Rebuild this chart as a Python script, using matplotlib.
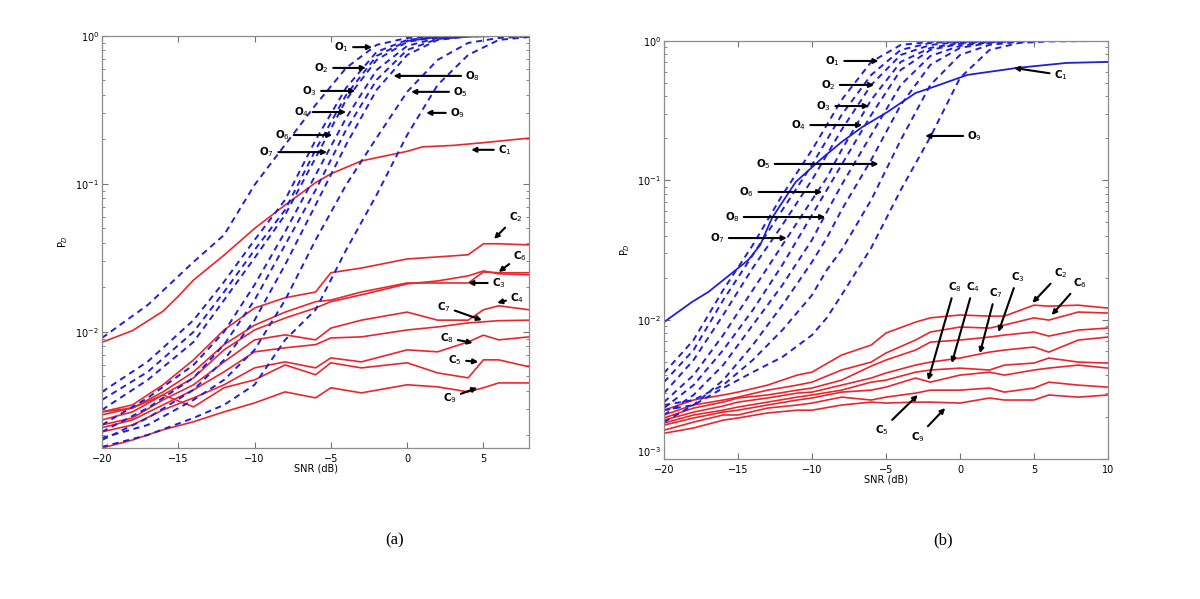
import matplotlib.pyplot as plt

# ---------------- panel (a) ----------------
snr_a_blue = [-20, -17, -14, -12, -10, -8, -6, -4, -2, 0, 2, 4, 6, 8]
a_O_curves = [
    [0.0091, 0.0152, 0.0297, 0.0452, 0.0985, 0.184, 0.342, 0.608, 0.87, 0.969, 0.992, 1.0, 1.0, 1.0],
    [0.00393, 0.0063, 0.012, 0.0218, 0.0418, 0.078, 0.198, 0.446, 0.78, 0.94, 0.984, 1.0, 1.0, 1.0],
    [0.00347, 0.00537, 0.01, 0.0186, 0.0358, 0.0667, 0.17, 0.399, 0.733, 0.925, 0.984, 1.0, 1.0, 1.0],
    [0.00297, 0.00474, 0.00855, 0.0164, 0.0316, 0.0618, 0.15, 0.37, 0.689, 0.911, 0.984, 1.0, 1.0, 1.0],
    [0.00235, 0.00358, 0.00598, 0.01, 0.0208, 0.0474, 0.115, 0.279, 0.589, 0.856, 0.969, 0.995, 1.0, 1.0],
    [0.00211, 0.00306, 0.00489, 0.0082, 0.0164, 0.0387, 0.091, 0.232, 0.505, 0.804, 0.954, 0.99, 1.0, 1.0],
    [0.00186, 0.00262, 0.00406, 0.00647, 0.012, 0.0284, 0.0721, 0.184, 0.432, 0.744, 0.94, 0.99, 1.0, 1.0],
    [0.00192, 0.00235, 0.00347, 0.00474, 0.00756, 0.0164, 0.0418, 0.0985, 0.205, 0.419, 0.689, 0.897, 0.969, 0.992],
    [0.00167, 0.00201, 0.00262, 0.00321, 0.00439, 0.00883, 0.0141, 0.0358, 0.0843, 0.214, 0.467, 0.744, 0.94, 0.984],
]

snr_a_c1 = [-20, -18, -16, -15, -14, -12, -10, -8, -6, -5, -3, -1, 0, 1, 3, 5, 8]
a_C1 = [0.0085, 0.0102, 0.0138, 0.0174, 0.0224, 0.033, 0.050, 0.072, 0.102, 0.117, 0.143,
        0.158, 0.166, 0.178, 0.182, 0.19, 0.204]

snr_a_red = [-20, -18, -16, -14, -12, -10, -8, -6, -5, -3, 0, 2, 4, 5, 6, 8]
a_C2 = [0.00288, 0.00321, 0.00439, 0.00647, 0.0103, 0.0145, 0.017, 0.0186, 0.0251, 0.027, 0.0311, 0.0321, 0.0332, 0.0394, 0.0394, 0.0387]
a_C3 = [0.00275, 0.00306, 0.00393, 0.00537, 0.0082, 0.0111, 0.0136, 0.016, 0.0164, 0.0186, 0.0214, 0.0214, 0.0214, 0.0254, 0.0251, 0.0251]
a_C6 = [0.00254, 0.00288, 0.00375, 0.00489, 0.00756, 0.0103, 0.0124, 0.0145, 0.016, 0.0178, 0.0211, 0.0221, 0.0239, 0.0258, 0.0247, 0.0243]
a_C4 = [0.00235, 0.00262, 0.00347, 0.00439, 0.00627, 0.00883, 0.00955, 0.00883, 0.0106, 0.012, 0.0136, 0.012, 0.012, 0.0141, 0.015, 0.0141]
a_C7 = [0.00225, 0.00254, 0.00321, 0.00406, 0.00537, 0.00733, 0.0078, 0.0082, 0.0091, 0.00925, 0.0103, 0.0108, 0.0115, 0.0117, 0.0119, 0.012]
a_C8 = [0.00211, 0.00235, 0.00297, 0.00358, 0.00439, 0.00571, 0.00627, 0.00571, 0.00667, 0.00627, 0.00756, 0.00733, 0.00855, 0.0095, 0.00883, 0.00925]
a_C5 = [0.00288, 0.00306, 0.00375, 0.00311, 0.00419, 0.00474, 0.00598, 0.00513, 0.00618, 0.00571, 0.00618, 0.00528, 0.00489, 0.00647, 0.00647, 0.0058]
a_C9 = [0.00164, 0.00186, 0.00218, 0.00247, 0.00288, 0.00331, 0.00393, 0.00358, 0.00419, 0.00387, 0.00439, 0.00425, 0.00393, 0.00419, 0.00452, 0.00452]

# ---------------- panel (b) ----------------
snr_b_blue = [-20, -18, -16, -14, -12, -10, -9, -8, -6, -4, -2, 0, 2, 4, 6, 10]
b_O_curves = [
    [0.00414, 0.00714, 0.0163, 0.0343, 0.0784, 0.165, 0.249, 0.377, 0.707, 0.936, 0.984, 1.0, 1.0, 1.0, 1.0, 1.0],
    [0.00356, 0.00605, 0.0138, 0.0291, 0.0612, 0.129, 0.1947, 0.294, 0.57, 0.862, 0.967, 0.992, 1.0, 1.0, 1.0, 1.0],
    [0.00297, 0.00513, 0.0108, 0.0235, 0.0478, 0.1005, 0.152, 0.23, 0.483, 0.793, 0.936, 0.984, 1.0, 1.0, 1.0, 1.0],
    [0.00256, 0.004, 0.00775, 0.0163, 0.0343, 0.0722, 0.104, 0.165, 0.377, 0.707, 0.891, 0.967, 0.992, 1.0, 1.0, 1.0],
    [0.00232, 0.00339, 0.00605, 0.0117, 0.0247, 0.0563, 0.0852, 0.129, 0.294, 0.619, 0.862, 0.952, 0.984, 1.0, 1.0, 1.0],
    [0.00207, 0.00288, 0.00472, 0.00915, 0.0177, 0.0373, 0.0592, 0.0925, 0.2115, 0.483, 0.78, 0.921, 0.976, 1.0, 1.0, 1.0],
    [0.00184, 0.00244, 0.00368, 0.00657, 0.0127, 0.0259, 0.0385, 0.0612, 0.14, 0.347, 0.673, 0.891, 0.967, 0.992, 1.0, 1.0],
    [0.00244, 0.00265, 0.00339, 0.00513, 0.00842, 0.015, 0.0227, 0.0316, 0.0722, 0.1947, 0.483, 0.793, 0.936, 0.984, 1.0, 1.0],
    [0.00224, 0.00244, 0.00323, 0.0042, 0.00539, 0.00775, 0.0103, 0.015, 0.0327, 0.0852, 0.2045, 0.542, 0.862, 0.967, 0.992, 1.0],
]

snr_b_c1 = [-20, -18.1, -17, -14.3, -13.5, -12.7, -11.1, -9.3, -8, -6.6, -4.9, -3, -1.8, 0.5, 3.85, 7.2, 10]
b_C1 = [0.0096, 0.0134, 0.0158, 0.0268, 0.0343, 0.0536, 0.0972, 0.1445, 0.188, 0.241, 0.309,
        0.423, 0.467, 0.570, 0.64, 0.695, 0.707]

snr_b_red = [-20, -18, -16, -15, -13, -11, -10, -8, -6, -5, -3, -2, 0, 2, 3, 5, 6, 8, 10]
b_C2 = [0.00224, 0.00265, 0.00288, 0.00302, 0.00339, 0.004, 0.0042, 0.00557, 0.00657, 0.00801, 0.0096, 0.0103, 0.0108, 0.0106, 0.0106, 0.0127, 0.0125, 0.0127, 0.0121]
b_C6 = [0.00207, 0.00244, 0.00265, 0.00278, 0.00312, 0.00339, 0.00356, 0.00435, 0.00496, 0.00576, 0.00714, 0.00815, 0.00885, 0.0087, 0.00915, 0.0103, 0.00993, 0.01134, 0.01115]
b_C3 = [0.00197, 0.00232, 0.00256, 0.00274, 0.00288, 0.00312, 0.00323, 0.00368, 0.00464, 0.00513, 0.00605, 0.0069, 0.00714, 0.0075, 0.00775, 0.00815, 0.00762, 0.00842, 0.0087]
b_C7 = [0.0019, 0.00217, 0.0024, 0.00256, 0.00274, 0.00297, 0.00302, 0.00339, 0.00381, 0.00414, 0.00472, 0.00496, 0.0053, 0.00585, 0.00605, 0.00636, 0.00585, 0.00714, 0.0075]
b_C4 = [0.00181, 0.00207, 0.00224, 0.00236, 0.00256, 0.00278, 0.00288, 0.00312, 0.00356, 0.00368, 0.0042, 0.00435, 0.00449, 0.00435, 0.00472, 0.00488, 0.0053, 0.00496, 0.00488]
b_C8 = [0.00175, 0.00197, 0.00217, 0.00224, 0.00244, 0.00265, 0.00274, 0.00302, 0.00312, 0.00328, 0.00381, 0.00356, 0.004, 0.0042, 0.004, 0.00435, 0.00449, 0.00472, 0.00449]
b_C5 = [0.00161, 0.00184, 0.00207, 0.00207, 0.00232, 0.00244, 0.00252, 0.00278, 0.00265, 0.00278, 0.00297, 0.00312, 0.00312, 0.00323, 0.00302, 0.00323, 0.00356, 0.00339, 0.00328]
b_C9 = [0.00153, 0.00167, 0.0019, 0.00197, 0.00214, 0.00224, 0.00224, 0.00244, 0.00256, 0.00252, 0.00256, 0.00256, 0.00252, 0.00274, 0.00265, 0.00265, 0.00288, 0.00278, 0.00288]

# label text, text position, arrow head (data coords)
a_labels = [
    ('O$_1$', (-4.3, 0.84), (-2.3, 0.84)),
    ('O$_2$', (-5.6, 0.608), (-2.7, 0.608)),
    ('O$_3$', (-6.4, 0.425), (-3.4, 0.425)),
    ('O$_4$', (-6.95, 0.306), (-4.0, 0.306)),
    ('O$_6$', (-8.2, 0.214), (-4.9, 0.214)),
    ('O$_7$', (-9.2, 0.164), (-5.25, 0.164)),
    ('O$_8$', (4.3, 0.537), (-0.9, 0.537)),
    ('O$_5$', (3.5, 0.419), (0.26, 0.419)),
    ('O$_9$', (3.3, 0.302), (1.25, 0.302)),
    ('C$_1$', (6.4, 0.17), (4.2, 0.17)),
    ('C$_2$', (7.1, 0.0598), (5.7, 0.0425)),
    ('C$_6$', (7.4, 0.0326), (6.0, 0.0254)),
    ('C$_3$', (6.0, 0.0214), (4.0, 0.0214)),
    ('C$_4$', (7.2, 0.017), (5.9, 0.0157)),
    ('C$_7$', (2.4, 0.0148), (4.9, 0.012)),
    ('C$_8$', (2.6, 0.0091), (4.3, 0.00843)),
    ('C$_5$', (3.15, 0.00647), (4.66, 0.00627)),
    ('C$_9$', (2.8, 0.00358), (4.6, 0.00419)),
]
b_labels = [
    ('O$_1$', (-8.6, 0.718), (-5.5, 0.718)),
    ('O$_2$', (-8.9, 0.483), (-5.8, 0.483)),
    ('O$_3$', (-9.2, 0.341), (-6.15, 0.341)),
    ('O$_4$', (-10.9, 0.249), (-6.6, 0.249)),
    ('O$_5$', (-13.3, 0.131), (-5.5, 0.131)),
    ('O$_6$', (-14.4, 0.0824), (-9.3, 0.0824)),
    ('O$_8$', (-15.4, 0.0545), (-9.1, 0.0545)),
    ('O$_7$', (-16.4, 0.0385), (-11.7, 0.0385)),
    ('C$_1$', (6.8, 0.57), (3.65, 0.64)),
    ('O$_9$', (1.0, 0.208), (-2.35, 0.208)),
    ('C$_8$', (-0.35, 0.0171), (-2.15, 0.00368)),
    ('C$_4$', (0.9, 0.0171), (-0.55, 0.00488)),
    ('C$_7$', (2.4, 0.0155), (1.35, 0.00575)),
    ('C$_3$', (3.9, 0.0202), (2.6, 0.00815)),
    ('C$_2$', (6.8, 0.0216), (4.9, 0.0132)),
    ('C$_6$', (8.1, 0.0183), (6.2, 0.0108)),
    ('C$_5$', (-5.3, 0.00161), (-2.85, 0.00288)),
    ('C$_9$', (-2.85, 0.00144), (-1.0, 0.00232)),
]

blue = '#1f1fd6'
red = '#e8262e'
dash = (0, (3.2, 2.4))

fig = plt.figure(figsize=(12, 5.99), dpi=100)
ax1 = fig.add_axes([0.085, 0.252, 0.356, 0.688])
ax2 = fig.add_axes([0.5533, 0.2337, 0.37, 0.698])

# panel (a)
ax1.plot(snr_a_c1, a_C1, color=red, lw=1.2)
for c in [a_C2, a_C3, a_C6, a_C4, a_C7, a_C8, a_C5, a_C9]:
    ax1.plot(snr_a_red, c, color=red, lw=1.2)
for c in a_O_curves:
    ax1.plot(snr_a_blue, c, color=blue, lw=1.4, linestyle=dash)
ax1.set_xlim(-20, 8)
ax1.set_ylim(0.00164, 1)

# panel (b)
for c in [b_C2, b_C6, b_C3, b_C7, b_C4, b_C8, b_C5, b_C9]:
    ax2.plot(snr_b_red, c, color=red, lw=1.2)
for c in b_O_curves:
    ax2.plot(snr_b_blue, c, color=blue, lw=1.4, linestyle=dash)
ax2.plot(snr_b_c1, b_C1, color=blue, lw=1.3)
ax2.set_xlim(-20, 10)
ax2.set_ylim(0.001, 1)

for ax, labels in [(ax1, a_labels), (ax2, b_labels)]:
    ax.set_yscale('log')
    ax.set_xticks(range(-20, 11, 5) if ax is ax2 else range(-20, 6, 5))
    ax.tick_params(which='both', direction='in', top=True, right=True,
                   labelsize=7, color='0.45')
    ax.tick_params(axis='x', pad=4)
    ax.tick_params(axis='y', pad=2)
    ax.tick_params(which='major', length=4)
    ax.tick_params(which='minor', length=2)
    for s in ax.spines.values():
        s.set_color('0.55')
        s.set_linewidth(0.9)
    ax.set_xlabel('SNR (dB)', fontsize=7, labelpad=0)
    ax.set_ylabel('P$_D$', fontsize=7, labelpad=4)
    for txt, xyt, xy in labels:
        ax.annotate(txt, xy=xy, xytext=xyt, fontsize=7.5, fontweight='bold',
                    ha='center', va='center',
                    arrowprops=dict(arrowstyle='-|>', color='k', lw=1.5,
                                    mutation_scale=7, shrinkA=1, shrinkB=0))

# shift the lowest y label of (b) a bit up so it clears the x labels
ax2.get_yaxis().set_tick_params(which='major')
fig.canvas.draw()
for lbl in ax2.get_yticklabels():
    if lbl.get_position()[1] == 0.001:
        lbl.set_va('bottom')

fig.text(395 / 1200, 1 - 540 / 599, '(a)', fontsize=12, family='Liberation Serif',
         ha='center', va='center')
fig.text(943 / 1200, 1 - 540 / 599, '(b)', fontsize=12, family='Liberation Serif',
         ha='center', va='center')

fig.savefig('out.png', dpi=100)
